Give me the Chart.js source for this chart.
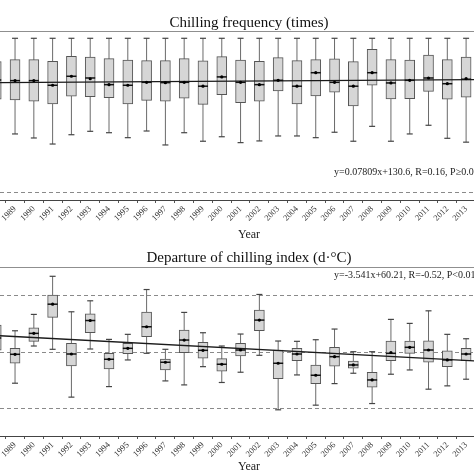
<!DOCTYPE html>
<html><head><meta charset="utf-8">
<script src="https://cdn.jsdelivr.net/npm/chart.js@4.4.1/dist/chart.umd.min.js"></script>
<style>
html,body{margin:0;padding:0;background:#fff;overflow:hidden;}
#wrap{position:relative;width:474px;height:474px;background:#fff;}
canvas{position:absolute;left:0;display:block;}
#c1{top:0}
#c2{top:240px}
</style></head><body>
<div id="wrap"><canvas id="c1" width="474" height="240"></canvas><canvas id="c2" width="474" height="234"></canvas></div>
<script>
// ---- categories ----
const years = [1988,1989,1990,1991,1992,1993,1994,1995,1996,1997,1998,1999,2000,2001,2002,2003,2004,2005,2006,2007,2008,2009,2010,2011,2012,2013];
const yearLabels = ['1988','1989','1990','1991','1992','1993','1994','1995','1996','1997','1998','1999','2000','2001','2002','2003','2004','2005','2006','2007','2008','2009','2010','2011','2012','2013'];

// ---- panel 1: Chilling frequency (times) ----
const freqWhiskerHigh = [159.3,159.3,159.3,159.3,159.3,159.3,159.3,159.3,159.3,159.3,159.3,159.3,159.3,159.3,159.3,159.3,159.3,159.3,159.3,159.3,159.3,159.3,159.3,159.3,159.3,159.3];
const freqQ3 = [144.2,145.5,145.5,144.5,147.7,147.1,146.2,145.3,144.9,144.9,146.2,144.7,147.5,145.3,144.5,146.8,144.9,145.5,146.0,144.2,152.2,145.5,145.3,148.4,145.5,147.1];
const freqMedian = [132.4,132.0,132.0,129.0,134.8,133.7,129.4,129.0,130.9,130.7,130.9,128.4,134.4,130.9,129.4,132.2,128.4,137.1,130.9,128.4,137.1,130.5,132.2,133.7,130.0,132.9];
const freqMean = [132.4,132.0,132.0,129.0,134.8,133.2,129.4,129.0,130.9,130.7,130.9,128.4,134.4,130.9,129.4,132.2,128.4,137.1,130.9,128.4,137.1,130.5,132.2,133.7,130.0,133.3];
const freqQ1 = [120.0,119.5,118.7,116.9,121.9,121.6,121.0,116.9,119.3,118.7,120.6,116.7,122.9,117.8,118.7,125.3,116.9,122.1,124.5,115.6,129.0,120.2,120.4,125.1,120.0,121.3];
const freqWhiskerLow = [95.0,97.6,95.0,91.1,97.1,99.3,98.4,95.2,99.5,90.5,98.4,92.9,95.8,92.0,93.1,96.3,96.3,95.2,98.7,92.9,102.5,92.9,97.6,103.2,94.8,92.3];
const freqTrend = [0.07809, 130.6];   // slope, intercept (x = year index, 1988 -> 1)
const freqRefLines = [60];

// ---- panel 2: Departure of chilling index (d·°C) ----
const depWhiskerHigh = [182,73.6,131.7,267,141,180,43,60.9,220,7.8,138.8,66.6,19.5,62,202.5,37.2,36.1,41.8,79.7,-0.7,-0.7,114,99.8,144.4,60.9,45.3];
const depQ3 = [94,11.3,84.3,200,29,134,-6.4,29,140,-26.6,76,32.6,-25.5,29,147,5.3,11.3,-47.8,14.9,-33.6,-73.6,37.2,37.2,38.2,2.8,11.3];
const depMedian = [48,-9.9,64.4,168,-8.9,110,-27.6,11.3,87.8,-38.2,40.7,4.2,-45.3,5.3,111.5,-41.8,-8.9,-84.3,-18.4,-47.8,-101,-6.4,14.9,5.3,-30,-8.9];
const depMean = [48,-9.9,64.4,168,-8.9,110,-27.6,11.3,87.8,-38.2,40.7,4.2,-45.3,5.3,111.5,-41.8,-8.9,-84.3,-18.4,-47.8,-101,-3.5,14.9,5.3,-30,-8.9];
const depQ1 = [5,-41.8,36.1,121,-51.3,66.6,-62,-7.8,52.4,-65.5,-4.1,-24,-70,-16,73.6,-96.3,-32.6,-114,-52.4,-59.5,-126.7,-32.6,-6.4,-38.2,-53.8,-32.6];
const depWhiskerLow = [-101,-112.6,19.5,7.8,-162,8.9,-124.6,-30,-6.4,-104.4,-118.6,-53.8,-110,-73.6,-13.5,-207,-83.2,-190.5,-114,-77.2,-184.8,-80.7,-65.5,-133.8,-122,-98.4];
const depTrend = [-3.541, 60.21];
const depRefLines = [-200, 0, 200];

const SERIF = "'Liberation Serif', 'DejaVu Serif', serif";

function buildDatasets(q1, q3, med, mean, wLo, wHi, trend) {
  const whisk = [];
  years.forEach((yr, i) => {
    whisk.push({x: yr, y: wLo[i]});
    whisk.push({x: yr, y: wHi[i]});
    whisk.push({x: yr, y: null});
  });
  const caps = [];
  years.forEach((yr, i) => { caps.push({x: yr, y: wLo[i]}); caps.push({x: yr, y: wHi[i]}); });
  const tx0 = 1987.5, tx1 = 2014.5;
  const trendData = [tx0, tx1].map(x => ({x: x, y: trend[0] * (x - 1987) + trend[1]}));
  return [
    {type: 'line', data: whisk, borderColor: '#6a6a6a', borderWidth: 1, pointRadius: 0, spanGaps: false, order: 6},
    {type: 'bar', data: years.map((yr, i) => ({x: yr, y: [q1[i], q3[i]]})), backgroundColor: '#d6d6d6',
      borderColor: '#555', borderWidth: 1, borderSkipped: false, barThickness: 10, grouped: false, order: 5},
    {type: 'scatter', data: caps, pointStyle: 'line', pointRadius: 3, borderColor: '#444', borderWidth: 1.2, order: 3},
    {type: 'line', data: trendData, borderColor: '#1a1a1a', borderWidth: 1.4, pointRadius: 0, order: 2},
    {type: 'scatter', data: years.map((yr, i) => ({x: yr, y: med[i]})), pointStyle: 'line', pointRadius: 5,
      borderColor: '#111', borderWidth: 1.5, order: 1},
    {type: 'scatter', data: years.map((yr, i) => ({x: yr, y: mean[i]})), pointStyle: 'circle', pointRadius: 1.6,
      backgroundColor: '#000', borderWidth: 0, order: 0}
  ];
}

const decor = {
  id: 'decor',
  beforeDatasetsDraw(chart, args, o) {
    const ctx = chart.ctx, ca = chart.chartArea, ys = chart.scales.y;
    ctx.save();
    ctx.strokeStyle = '#8a8a8a';
    ctx.lineWidth = 1;
    ctx.setLineDash([4, 3]);
    o.refLines.forEach(v => {
      const py = Math.round(ys.getPixelForValue(v)) + 0.5;
      ctx.beginPath(); ctx.moveTo(ca.left, py); ctx.lineTo(ca.right, py); ctx.stroke();
    });
    ctx.setLineDash([]);
    ctx.strokeStyle = '#8f8f8f';
    const ty = Math.round(ca.top) + 0.5;
    ctx.beginPath(); ctx.moveTo(ca.left, ty); ctx.lineTo(ca.right, ty); ctx.stroke();
    ctx.restore();
  },
  afterDraw(chart, args, o) {
    const ctx = chart.ctx;
    ctx.save();
    ctx.fillStyle = '#111';
    ctx.textBaseline = 'alphabetic';
    ctx.textAlign = 'center';
    ctx.font = '15px ' + SERIF;
    ctx.fillText(o.title, 249, o.titleY);
    ctx.font = '12px ' + SERIF;
    ctx.fillStyle = '#222';
    ctx.fillText('Year', 249, o.yearY);
    ctx.textAlign = 'left';
    ctx.font = '10px ' + SERIF;
    ctx.fillText(o.eq, 334, o.eqY);
    ctx.restore();
  }
};

function makeChart(id, ds, yMin, yMax, padTop, axisH, deco) {
  return new Chart(document.getElementById(id), {
    type: 'bar',
    data: {datasets: ds},
    options: {
      responsive: false, animation: false, devicePixelRatio: 1,
      layout: {autoPadding: false, padding: {top: padTop, left: 0, right: 0, bottom: 0}},
      plugins: {legend: {display: false}, tooltip: {enabled: false}, decor: deco},
      scales: {
        x: {
          type: 'linear', min: 1988.2, max: 2013.42, offset: false,
          afterBuildTicks: s => { s.ticks = years.map(v => ({value: v})); },
          afterFit: s => { s.paddingLeft = 0; s.paddingRight = 0; s.height = axisH; },
          ticks: {autoSkip: false, minRotation: 45, maxRotation: 45, padding: 1,
            font: {family: SERIF, size: 8.5}, color: '#333',
            callback: (v) => { const k = years.indexOf(v); return k >= 0 ? yearLabels[k] : ''; }},
          grid: {drawOnChartArea: false, drawTicks: true, tickLength: 3, color: '#555'},
          border: {display: true, color: '#444', width: 1}
        },
        y: {type: 'linear', display: false, min: yMin, max: yMax}
      }
    },
    plugins: [decor]
  });
}

makeChart('c1', buildDatasets(freqQ1, freqQ3, freqMedian, freqMean, freqWhiskerLow, freqWhiskerHigh, freqTrend),
  55, 164, 31, 40,
  {refLines: freqRefLines, title: 'Chilling frequency (times)', titleY: 26.5, yearY: 237.5,
   eq: 'y=0.07809x+130.6, R=0.16, P\u22650.05', eqY: 175});

makeChart('c2', buildDatasets(depQ1, depQ3, depMedian, depMean, depWhiskerLow, depWhiskerHigh, depTrend),
  -300, 300, 27, 38,
  {refLines: depRefLines, title: 'Departure of chilling index (d\u00b7\u00b0C)', titleY: 22, yearY: 230,
   eq: 'y=-3.541x+60.21, R=-0.52, P<0.01', eqY: 38});
</script>
</body></html>
